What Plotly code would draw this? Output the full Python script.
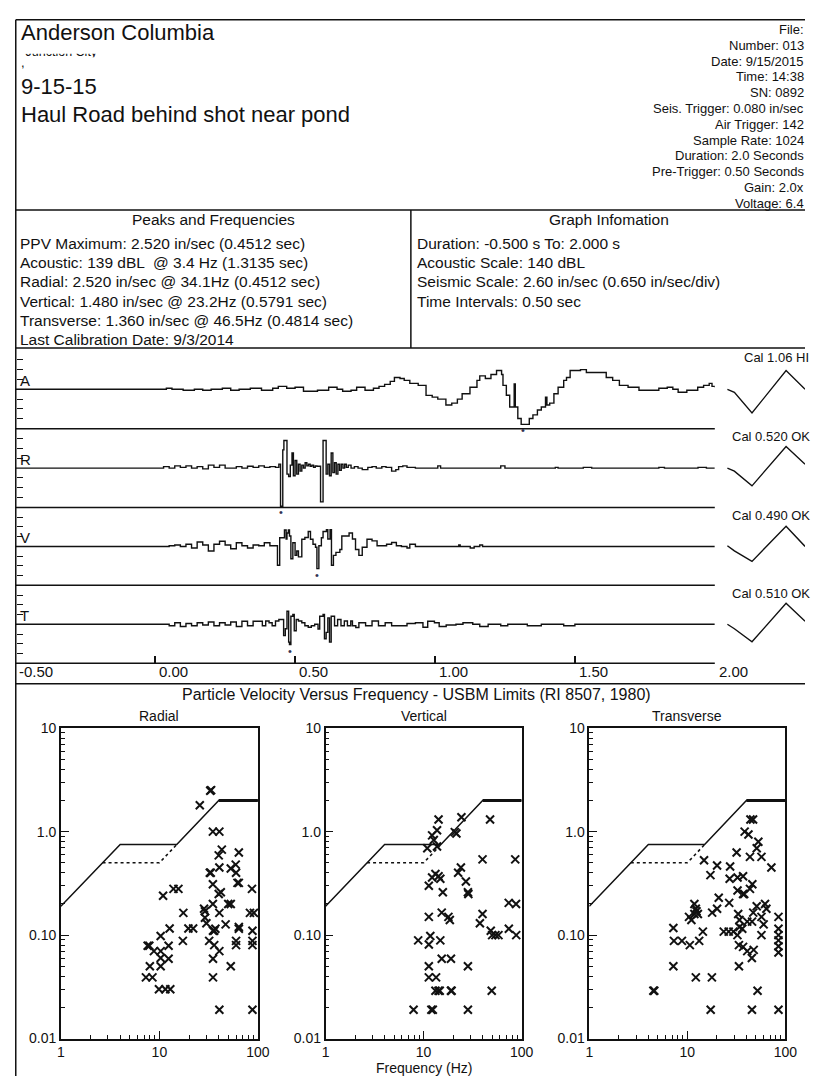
import plotly.graph_objects as go

W, H = 817, 1084
FONT = "Liberation Sans, Arial, Helvetica, sans-serif"
INK = "#111111"

# ---------------- header / report text ----------------
client = "Anderson Columbia"
location = "Junction City"
blast_date = "9-15-15"
blast_note = "Haul Road behind shot near pond"
event_info = [
    "File:", "Number: 013", "Date: 9/15/2015", "Time: 14:38", "SN: 0892",
    "Seis. Trigger: 0.080 in/sec", "Air Trigger: 142", "Sample Rate: 1024",
    "Duration: 2.0 Seconds", "Pre-Trigger: 0.50 Seconds", "Gain: 2.0x", "Voltage: 6.4",
]
peaks_lines = [
    "PPV Maximum: 2.520 in/sec (0.4512 sec)",
    "Acoustic: 139 dBL \u00a0@ 3.4 Hz (1.3135 sec)",
    "Radial: 2.520 in/sec @ 34.1Hz (0.4512 sec)",
    "Vertical: 1.480 in/sec @ 23.2Hz (0.5791 sec)",
    "Transverse: 1.360 in/sec @ 46.5Hz (0.4814 sec)",
    "Last Calibration Date: 9/3/2014",
]
graph_lines = [
    "Duration: -0.500 s To: 2.000 s",
    "Acoustic Scale: 140 dBL",
    "Seismic Scale: 2.60 in/sec (0.650 in/sec/div)",
    "Time Intervals: 0.50 sec",
]

# ---------------- waveform data (time in s) ----------------
time_ticks = [-0.5, 0.0, 0.5, 1.0, 1.5, 2.0]
time_labels = ["-0.50", "0.00", "0.50", "1.00", "1.50", "2.00"]

time_a = [-0.5, 0.00, 0.04, 0.06, 0.10, 0.14, 0.17, 0.20, 0.24, 0.27, 0.30, 0.34, 0.38, 0.42,
          0.44, 0.47, 0.50, 0.53, 0.58, 0.62, 0.65, 0.67, 0.70, 0.72, 0.75, 0.78, 0.80, 0.82,
          0.84, 0.855, 0.875, 0.89, 0.91, 0.94, 0.968, 0.99, 1.01, 1.039, 1.06, 1.08, 1.097,
          1.125, 1.15, 1.16, 1.18, 1.20, 1.22, 1.238, 1.243, 1.255, 1.267, 1.279, 1.283, 1.287,
          1.296, 1.308, 1.337, 1.35, 1.366, 1.38, 1.395, 1.40, 1.41, 1.425, 1.44, 1.46, 1.47,
          1.483, 1.52, 1.541, 1.57, 1.612, 1.635, 1.659, 1.69, 1.729, 1.77, 1.80, 1.83, 1.85,
          1.869, 1.90, 1.939, 1.96, 1.98, 1.99, 2.00]
acoustic_pa = [0, 0, 5, 0, -5, 0, -5, 0, 5, -5, 0, 5, -5, 5,
               15, 5, 10, -10, -5, 10, 0, -10, -5, 10, -5, 5, 15, 25,
               40, 60, 55, 45, 30, 20, -31, -40, -50, -80, -70, -50, -23,
               10, 45, 68, 55, 75, 95, 75, 20, -30, -90, -90, 27, -90,
               -148, -178, -148, -130, -105, -90, -40, -80, -70, -23, 10, 45, 60,
               95, 100, 85, 85, 60, 45, 20, 10, -5, -5, 5, 10, 0,
               -15, -5, 10, 20, 30, 15, 10]

time_r = [-0.5, 0.00, 0.03, 0.05, 0.07, 0.09, 0.11, 0.13, 0.15, 0.17, 0.19, 0.21, 0.23, 0.25,
          0.27, 0.29, 0.31, 0.33, 0.35, 0.37, 0.39, 0.41, 0.43, 0.442, 0.448, 0.456, 0.460,
          0.471, 0.477, 0.483, 0.489, 0.494, 0.500, 0.506, 0.512, 0.518, 0.524, 0.530, 0.536,
          0.542, 0.548, 0.554, 0.560, 0.566, 0.572, 0.578, 0.591, 0.600, 0.611, 0.617, 0.623,
          0.629, 0.635, 0.641, 0.647, 0.653, 0.659, 0.665, 0.671, 0.677, 0.683, 0.690, 0.700,
          0.712, 0.725, 0.740, 0.760, 0.775, 0.790, 0.810, 0.825, 0.845, 0.860, 0.870, 0.885,
          0.900, 0.930, 1.010, 1.020, 1.235, 1.250, 1.430, 1.440, 1.530, 1.560, 1.800, 1.820,
          1.940, 1.970, 2.000]
radial_ips = [0, 0, 0.1, 0, 0.15, 0.05, 0.15, 0, 0.1, -0.05, 0.2, 0.05, 0.2, 0,
              0, 0.1, 0, 0.12, 0.05, 0.15, 0.05, 0.1, 0.05, 0.26, -2.52, 1.2, 1.82,
              -0.4, -0.55, 0.2, 1.0, -0.5, 0.5, -0.4, 0.25, -0.2, 0.2, 0, 0.35,
              0.15, 0.25, 0.12, 0.2, 0.05, 0.15, 0.12, -2.23, 1.82, -0.4, 0.25, -0.5,
              1.0, -0.3, 0.35, -0.4, 0.25, -0.15, 0.25, 0, 0.25, 0.05, 0.2, 0,
              0.1, 0, -0.1, 0.05, 0.1, 0, 0.1, 0.05, -0.2, -0.1, 0.1, 0.15,
              0.05, 0, 0.15, 0, 0.15, 0, 0.05, 0, 0.05, 0, 0.05, 0,
              0.05, 0, 0]

time_v = [-0.5, 0.03, 0.05, 0.07, 0.09, 0.11, 0.13, 0.15, 0.17, 0.19, 0.21, 0.23, 0.25, 0.27,
          0.29, 0.31, 0.33, 0.35, 0.37, 0.39, 0.41, 0.437, 0.445, 0.462, 0.468, 0.471, 0.476,
          0.480, 0.485, 0.492, 0.500, 0.506, 0.512, 0.524, 0.535, 0.547, 0.555, 0.564, 0.573,
          0.578, 0.585, 0.594, 0.600, 0.612, 0.617, 0.625, 0.630, 0.637, 0.646, 0.660, 0.667,
          0.681, 0.693, 0.705, 0.716, 0.728, 0.740, 0.757, 0.775, 0.793, 0.810, 0.827, 0.845,
          0.862, 0.880, 0.900, 0.910, 0.930, 1.085, 1.090, 1.126, 1.140, 1.160, 1.170, 2.000]
vertical_ips = [0, 0, 0.05, 0.1, 0, 0.15, -0.1, 0.3, 0.1, -0.3, 0.15, 0.35, 0.1, -0.15,
                0.25, 0.05, -0.1, 0.1, 0.05, 0.25, 0.05, -1.26, 0.58, 1.1, 0.5, 0.9, 1.1,
                0.7, -0.82, 0.25, -0.6, -0.3, -0.7, 0.48, 0.6, 1.0, 0.48, 0.15, -0.05,
                -1.48, 0.05, 0.58, 1.0, 1.12, 0.5, 1.12, -1.26, -0.6, -0.4, -0.2, 0.7,
                0.7, 0.9, 0.5, -0.2, -0.6, -0.05, 0.48, 0.37, 0.05, 0.05, 0.15, 0.26,
                0.05, 0, -0.1, 0.15, 0, 0.1, 0, -0.1, 0, 0.1, 0, 0]

time_t = [-0.5, 0.03, 0.05, 0.07, 0.09, 0.11, 0.13, 0.15, 0.17, 0.19, 0.21, 0.23, 0.25, 0.27,
          0.29, 0.31, 0.33, 0.35, 0.383, 0.395, 0.407, 0.418, 0.430, 0.442, 0.459, 0.465,
          0.471, 0.477, 0.480, 0.485, 0.492, 0.497, 0.504, 0.512, 0.524, 0.535, 0.547, 0.558,
          0.570, 0.582, 0.588, 0.600, 0.605, 0.611, 0.617, 0.623, 0.629, 0.641, 0.652, 0.664,
          0.676, 0.687, 0.699, 0.705, 0.717, 0.728, 0.752, 0.775, 0.798, 0.822, 0.845, 0.868,
          0.900, 0.930, 0.957, 0.974, 0.998, 1.015, 1.040, 1.075, 1.100, 1.135, 1.160, 1.190,
          1.235, 1.260, 1.330, 1.380, 1.460, 1.500, 2.000]
transverse_ips = [0, 0, -0.1, 0.1, -0.15, 0.05, -0.1, 0.1, -0.05, 0.15, -0.1, 0.1, -0.05, 0.15,
                  -0.15, 0.2, -0.1, 0.2, -0.1, 0.22, 0.1, -0.1, 0.22, 0.32, -0.76, -0.3,
                  0.87, -1.19, -1.36, 0.54, 0.65, -0.43, 0.32, 0.22, 0.1, -0.1, -0.2, -0.1,
                  0, -0.32, 0.54, 0.65, -0.97, -0.54, 0.43, -1.19, 0.54, -0.1, 0.32, -0.1,
                  0.22, -0.1, 0.22, -0.1, -0.22, 0.1, -0.1, 0.22, -0.1, 0.1, -0.1, -0.1,
                  0.05, 0.1, -0.2, 0.2, 0.1, -0.15, -0.05, 0, 0.1, 0, -0.15, 0,
                  -0.1, 0, -0.1, 0, -0.1, 0, 0]

# calibration pulses (s after pulse start)
cal_time = [0.010, 0.035, 0.098, 0.220, 0.288]
cal_a = [0, -15, -120, 95, 0]
cal_r = [0, -0.2, -1.17, 1.43, 0.26]
cal_v = [0.05, -0.3, -1.0, 1.35, 0]
cal_tr = [0, -0.3, -1.17, 1.4, 0.2]
cal_labels = ["Cal 1.06 HI", "Cal 0.520 OK", "Cal 0.490 OK", "Cal 0.510 OK"]

peak_times = [1.3135, 0.4512, 0.5791, 0.4814]
peak_values = [-178, -2.52, -1.48, -1.36]

# ---------------- USBM scatter data ----------------
radial_freq = [32.8, 33.5, 25.7, 34.9, 40.6, 43, 40, 64, 32.5, 33.2, 40.6, 53, 59.5, 60, 62, 64,
               34.9, 10.9, 13.9, 15.6, 87, 42, 40, 28.4, 29, 29, 30, 34.9, 50, 53, 17.5, 40.6,
               83, 91, 12.7, 19.7, 22, 35, 36, 37, 47, 64, 64, 88, 10.3, 17.3, 32, 36, 60, 60,
               88, 88, 7.6, 7.9, 8.8, 10.3, 12.4, 12.4, 10.3, 35, 40.6, 8.0, 10.3, 53, 7.3,
               8.5, 35, 9.9, 11.5, 12.9, 40.6, 88]
radial_ppv = [2.49, 2.52, 1.80, 1.0, 1.0, 0.67, 0.59, 0.63, 0.40, 0.40, 0.45, 0.44, 0.48, 0.40,
              0.32, 0.32, 0.31, 0.24, 0.28, 0.28, 0.28, 0.26, 0.25, 0.18, 0.17, 0.147, 0.13,
              0.2, 0.2, 0.2, 0.164, 0.164, 0.164, 0.164, 0.116, 0.116, 0.116, 0.11, 0.11,
              0.115, 0.127, 0.12, 0.115, 0.11, 0.098, 0.088, 0.088, 0.08, 0.088, 0.08, 0.088,
              0.08, 0.079, 0.079, 0.07, 0.07, 0.079, 0.059, 0.06, 0.059, 0.07, 0.05, 0.05,
              0.05, 0.039, 0.039, 0.039, 0.03, 0.03, 0.03, 0.019, 0.019]

vertical_freq = [14.2, 24.3, 47.6, 13.7, 12.2, 12.7, 20.8, 21.6, 10.9, 13.7, 39.9, 86, 11.3, 12.2,
                 13.2, 14.2, 14.8, 22.5, 24, 27, 28.3, 28.6, 15.7, 15.3, 17.9, 18.5, 11.3, 37.5,
                 39.9, 73.8, 87.6, 48.4, 50, 54, 58, 74, 88, 8.8, 11.7, 11.3, 14.8, 11.3, 15.3,
                 19, 28.3, 11.3, 13.4, 13.2, 14.2, 14.6, 19, 19.3, 49.5, 7.9, 12, 12.4, 28.3]
vertical_ppv = [1.31, 1.38, 1.31, 1.03, 0.92, 0.83, 0.99, 0.96, 0.69, 0.72, 0.54, 0.54, 0.30,
                0.36, 0.39, 0.37, 0.35, 0.40, 0.45, 0.33, 0.26, 0.25, 0.26, 0.165, 0.15, 0.14,
                0.15, 0.13, 0.16, 0.205, 0.2, 0.11, 0.1, 0.1, 0.1, 0.115, 0.1, 0.089, 0.098,
                0.081, 0.089, 0.05, 0.059, 0.059, 0.05, 0.039, 0.039, 0.029, 0.029, 0.029,
                0.029, 0.029, 0.029, 0.019, 0.019, 0.019, 0.019]

transverse_freq = [44, 46.8, 38.4, 42, 53, 51, 31.8, 43.5, 57, 14.8, 20.1, 27.3, 72, 17.2, 27,
                   32.5, 37, 46, 37, 38, 32.5, 43.5, 20.9, 26.7, 11.8, 12.2, 12.4, 11.8, 10.4,
                   11, 20.1, 17.9, 12.8, 51, 62, 64, 33, 34, 34, 40.8, 45.7, 47, 57, 60, 85,
                   14.4, 23.5, 26.4, 29.5, 32.4, 36.3, 7.2, 7.3, 8.8, 10.6, 13.2, 33.6, 37, 40.8,
                   47.5, 45.5, 57, 85, 85, 85, 85, 85, 7.2, 33.6, 12.2, 17.8, 4.5, 4.6, 52,
                   17.3, 45.6, 85]
transverse_ppv = [1.31, 1.31, 1.0, 0.94, 0.8, 0.69, 0.63, 0.57, 0.57, 0.53, 0.47, 0.46, 0.45,
                  0.38, 0.35, 0.36, 0.37, 0.31, 0.25, 0.25, 0.27, 0.28, 0.23, 0.205, 0.2, 0.18,
                  0.17, 0.16, 0.15, 0.14, 0.18, 0.165, 0.16, 0.19, 0.2, 0.18, 0.16, 0.14, 0.12,
                  0.135, 0.135, 0.165, 0.15, 0.127, 0.15, 0.108, 0.108, 0.108, 0.108, 0.1, 0.115,
                  0.117, 0.088, 0.088, 0.08, 0.088, 0.08, 0.077, 0.07, 0.072, 0.06, 0.1, 0.115,
                  0.1, 0.089, 0.078, 0.068, 0.05, 0.05, 0.039, 0.039, 0.029, 0.029, 0.029,
                  0.019, 0.019, 0.019]

# USBM RI 8507 limit curves
usbm_freq = [1, 2.65, 4, 15, 40, 100]
usbm_ppv = [0.19, 0.5, 0.75, 0.75, 2.0, 2.0]
usbm_cap_freq = [40, 100]
usbm_cap_ppv = [2.0, 2.0]
plaster_freq = [2.65, 10, 15]
plaster_ppv = [0.5, 0.5, 0.75]


def fx(px):
    return px / W


def fy(py):
    return 1 - py / H


def label(text, px, py, size, xanchor="left", yanchor="middle"):
    return dict(text=text, x=fx(px), y=fy(py), xref="paper", yref="paper",
                xanchor=xanchor, yanchor=yanchor, showarrow=False,
                font=dict(size=size, family=FONT, color=INK))


fig = go.Figure()
layout = dict(
    width=W, height=H, margin=dict(l=0, r=0, t=0, b=0),
    paper_bgcolor="white", plot_bgcolor="rgba(0,0,0,0)", showlegend=False,
    font=dict(family=FONT, color=INK),
)
annotations = []
shapes = []

# ---------------- waveform panel ----------------
channels = [
    ("A", time_a, acoustic_pa, cal_a, 200, [-150, -100, -50, 50, 100, 150], 347, 427),
    ("R", time_r, radial_ips, cal_r, 2.6, [-1.95, -1.3, -0.65, 0.65, 1.3, 1.95], 427, 507),
    ("V", time_v, vertical_ips, cal_v, 2.6, [-1.95, -1.3, -0.65, 0.65, 1.3, 1.95], 507, 586),
    ("T", time_t, transverse_ips, cal_tr, 2.6, [-1.95, -1.3, -0.65, 0.65, 1.3, 1.95], 586, 665),
]
layout["xaxis"] = dict(domain=[fx(11.5), fx(725)], range=[-0.5, 2.0], anchor="y4",
                       ticks="inside", ticklen=7, tickwidth=1.5, tickcolor=INK,
                       tickvals=time_ticks, showticklabels=False, showgrid=False,
                       zeroline=False, showline=False, fixedrange=True)
# calibration pulses: same 285 px/s scale, cut by the right page edge
layout["xaxis5"] = dict(domain=[fx(735), 1], range=[0, (W - 735) / 285.0],
                        anchor="y", visible=False, fixedrange=True)

for i, (name, t, v, cal, full, ticks, top, bot) in enumerate(channels):
    yid = "y" if i == 0 else f"y{i + 1}"
    layout["yaxis" if i == 0 else f"yaxis{i + 1}"] = dict(
        domain=[fy(bot), fy(top)], range=[-full, full], anchor="free", position=fx(12),
        ticks="inside", ticklen=6, tickwidth=1.3, tickcolor=INK, tickvals=ticks,
        showticklabels=False, showgrid=False, zeroline=False, showline=False, fixedrange=True)
    fig.add_trace(go.Scatter(x=t, y=v, mode="lines", line=dict(color=INK, width=1.4, shape="hv"),
                             xaxis="x", yaxis=yid, hoverinfo="skip"))
    fig.add_trace(go.Scatter(x=cal_time, y=cal, mode="lines", line=dict(color=INK, width=1.4),
                             xaxis="x5", yaxis=yid, hoverinfo="skip"))
    base = (top + bot) / 2
    annotations.append(label(name, 14, base - 9, 15))
    annotations.append(label(cal_labels[i], 753 if i == 0 else 740, top + 8 if i else 355, 13))
    annotations.append(dict(text="\u2022", x=peak_times[i], y=peak_values[i], xref="x", yref=yid,
                            yshift=-6, showarrow=False, font=dict(size=11, color="#333355")))
    shapes.append(dict(type="line", xref="paper", yref="paper", x0=fx(12), x1=fx(725),
                       y0=fy(bot), y1=fy(bot), line=dict(color=INK, width=1.5)))

for tv, tl in zip(time_ticks, time_labels):
    annotations.append(dict(text=tl, x=tv, y=fy(673), xref="x", yref="paper", xanchor="left",
                            xshift=2, showarrow=False, font=dict(size=15, family=FONT, color=INK)))

# ---------------- USBM scatter panels ----------------
panels = [
    ("Radial", radial_freq, radial_ppv, 58, 259),
    ("Vertical", vertical_freq, vertical_ppv, 328, 528),
    ("Transverse", transverse_freq, transverse_ppv, 597, 797),
]
minor_x = [2, 3, 4, 5, 6, 7, 8, 9, 20, 30, 40, 50, 60, 70, 80, 90]
minor_y = [0.02, 0.03, 0.04, 0.05, 0.06, 0.07, 0.08, 0.09,
           0.2, 0.3, 0.4, 0.5, 0.6, 0.7, 0.8, 0.9, 2, 3, 4, 5, 6, 7, 8, 9]
for k, (title, fq, pv, x0, x1) in enumerate(panels):
    n = 6 + k
    xa, ya = f"x{n}", f"y{n}"
    layout[f"xaxis{n}"] = dict(
        type="log", domain=[fx(x0), fx(x1)], range=[0, 2], anchor=ya,
        tickvals=[1, 10, 100], ticktext=["1", "10", "100"], ticks="inside", ticklen=8,
        tickwidth=1.3, tickcolor=INK, tickfont=dict(size=14, color=INK),
        minor=dict(tickvals=minor_x, ticks="inside", ticklen=4, tickcolor=INK, showgrid=False),
        showline=True, mirror=True, linecolor=INK, linewidth=1.5, showgrid=False,
        zeroline=False, fixedrange=True)
    layout[f"yaxis{n}"] = dict(
        type="log", domain=[fy(1046), fy(731)], range=[-2, 1], anchor=xa,
        tickvals=[0.01, 0.1, 1, 10], ticktext=["0.01", "0.10", "1.0", "10"], ticks="inside",
        ticklen=8, tickwidth=1.3, tickcolor=INK, tickfont=dict(size=14, color=INK),
        minor=dict(tickvals=minor_y, ticks="inside", ticklen=4, tickcolor=INK, showgrid=False),
        showline=True, mirror=True, linecolor=INK, linewidth=1.5, showgrid=False,
        zeroline=False, fixedrange=True)
    fig.add_trace(go.Scatter(x=usbm_freq, y=usbm_ppv, mode="lines",
                             line=dict(color=INK, width=1.5), xaxis=xa, yaxis=ya, hoverinfo="skip"))
    fig.add_trace(go.Scatter(x=usbm_cap_freq, y=usbm_cap_ppv, mode="lines",
                             line=dict(color=INK, width=3), xaxis=xa, yaxis=ya, hoverinfo="skip"))
    fig.add_trace(go.Scatter(x=plaster_freq, y=plaster_ppv, mode="lines",
                             line=dict(color=INK, width=1.6, dash="dot"), xaxis=xa, yaxis=ya,
                             hoverinfo="skip"))
    fig.add_trace(go.Scatter(x=fq, y=pv, mode="markers",
                             marker=dict(symbol="x-thin", size=8, line=dict(color=INK, width=2)),
                             xaxis=xa, yaxis=ya, hoverinfo="skip", cliponaxis=False))
    annotations.append(label(title, (x0 + x1) / 2, 719, 14, xanchor="center"))

annotations.append(label("Particle Velocity Versus Frequency - USBM Limits (RI 8507, 1980)",
                         421, 697, 16, xanchor="center"))
annotations.append(label("Frequency (Hz)", 428, 1076, 14, xanchor="center"))

# ---------------- header text ----------------
# the location line is printed cut off in the report: only the foot of its letters shows
layout["xaxis9"] = dict(domain=[0, 0.5], range=[0, W / 2], anchor="y9", visible=False,
                        fixedrange=True)
layout["yaxis9"] = dict(domain=[fy(50), fy(46.5)], range=[0, 1], anchor="x9", visible=False,
                        fixedrange=True)
fig.add_trace(go.Scatter(x=[22], y=[1.29], mode="text", text=[location],
                         textposition="middle right",
                         textfont=dict(size=12.5, family=FONT, color=INK),
                         xaxis="x9", yaxis="y9", cliponaxis=True, hoverinfo="skip"))

annotations.append(label(client, 15, 25, 22))
annotations.append(label(",", 15, 55, 13))
annotations.append(label(blast_date, 15, 80, 22))
annotations.append(label(blast_note, 15, 108, 22))
for j, line in enumerate(event_info):
    annotations.append(label(line, 818, 22 + 16 * j, 13, xanchor="right"))

annotations.append(label("Peaks and Frequencies", 214, 215, 15.5, xanchor="center"))
for j, line in enumerate(peaks_lines):
    annotations.append(label(line, 14, 239 + 19.5 * j, 15.5))
annotations.append(label("Graph Infomation", 617, 215, 15.5, xanchor="center"))
for j, line in enumerate(graph_lines):
    annotations.append(label(line, 419, 239 + 19.5 * j, 15.5))

# ---------------- report frame ----------------
frame = dict(color=INK, width=1.5)
for py in [12, 205, 345, 686]:
    shapes.append(dict(type="line", xref="paper", yref="paper", x0=fx(12), x1=1,
                       y0=fy(py), y1=fy(py), line=frame))
shapes.append(dict(type="line", xref="paper", yref="paper", x0=fx(12), x1=fx(12),
                   y0=fy(12), y1=0, line=frame))
shapes.append(dict(type="line", xref="paper", yref="paper", x0=fx(415), x1=fx(415),
                   y0=fy(205), y1=fy(345), line=frame))

layout["annotations"] = annotations
layout["shapes"] = shapes
fig.update_layout(**layout)
# the report fills the whole window, so drop the page's default body margin
fig.write_html("out.html", config={"displayModeBar": False},
               post_script="document.body.style.margin='0';document.body.style.overflow='hidden';")
